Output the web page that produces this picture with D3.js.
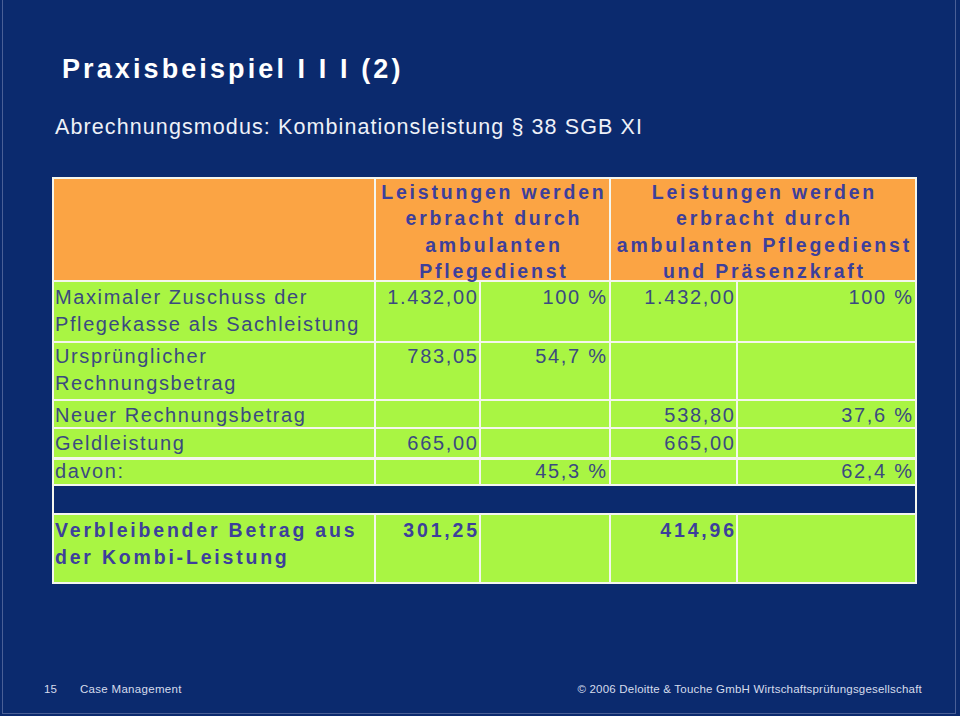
<!DOCTYPE html>
<html><head><meta charset="utf-8">
<script src="https://cdn.jsdelivr.net/npm/d3@7"></script>
<style>
html,body{margin:0;padding:0;background:#0b2a6e;}
svg{display:block;}
</style></head>
<body>
<svg id="chart" width="960" height="716"></svg>
<script>
// ---- data ----
const title = "Praxisbeispiel I I I (2)";
const subtitle = "Abrechnungsmodus: Kombinationsleistung § 38 SGB XI";
const headerLeft = ["Leistungen werden", "erbracht durch", "ambulanten", "Pflegedienst"];
const headerRight = ["Leistungen werden", "erbracht durch", "ambulanten Pflegedienst", "und Präsenzkraft"];
const rowLabels = [
  ["Maximaler Zuschuss der", "Pflegekasse als Sachleistung"],
  ["Ursprünglicher", "Rechnungsbetrag"],
  ["Neuer Rechnungsbetrag"],
  ["Geldleistung"],
  ["davon:"],
  ["Verbleibender Betrag aus", "der Kombi-Leistung"]
];
// columns: Betrag (Pflegedienst), Anteil, Betrag (Kombi), Anteil
const betragA = ["1.432,00", "783,05", "", "665,00", "", "301,25"];
const anteilA = ["100 %", "54,7 %", "", "", "45,3 %", ""];
const betragB = ["1.432,00", "", "538,80", "665,00", "", "414,96"];
const anteilB = ["100 %", "", "37,6 %", "", "62,4 %", ""];
const footerLeftNum = "15";
const footerLeftText = "Case Management";
const footerRight = "© 2006 Deloitte & Touche GmbH Wirtschaftsprüfungsgesellschaft";

// ---- layout ----
const svg = d3.select("#chart");
const NAVY = "#0b2a6e", ORANGE = "#fba444", GREEN = "#a9f543";
const TXT = "#3b4a80", HDR = "#3d3f9b";
const colX = [53, 375, 480, 610, 737, 916];
const rowBottoms = [342, 400, 428, 458, 485, 583];
const rowTopsAll = [281, 342, 400, 428, 458, 514];
const tableTop = 178, gapTop = 485, gapBottom = 514;
const FONT = "Liberation Sans, Arial, sans-serif";

// slide border
svg.append("rect").attr("x",0).attr("y",0).attr("width",960).attr("height",716).attr("fill",NAVY);
svg.append("rect").attr("x",2.5).attr("y",-1).attr("width",953).attr("height",714.5)
  .attr("fill","none").attr("stroke","#4a5f96").attr("stroke-width",1);

// title
svg.append("text").attr("x",62).attr("y",78).text(title)
  .attr("fill","#fff").attr("font-family",FONT)
  .attr("font-weight","bold").attr("font-size",27).attr("letter-spacing",3.1);
svg.append("text").attr("x",55).attr("y",134).text(subtitle)
  .attr("fill","#eef1f8").attr("font-family",FONT)
  .attr("font-size",21.5).attr("letter-spacing",1.1);

// table background (white grid)
const g = svg.append("g");
g.append("rect").attr("x",colX[0]-1).attr("y",tableTop-1)
  .attr("width",colX[5]-colX[0]+2).attr("height",583-tableTop+2).attr("fill","#f4f6ee");

function cell(x0,x1,y0,y1,fill){
  g.append("rect").attr("x",x0+1).attr("y",y0+1).attr("width",x1-x0-2).attr("height",y1-y0-2).attr("fill",fill);
}
// header cells
cell(colX[0],colX[1],tableTop,281,ORANGE);
cell(colX[1],colX[3],tableTop,281,ORANGE);
cell(colX[3],colX[5],tableTop,281,ORANGE);
// data rows
rowTopsAll.forEach((t,i)=>{
  const b = rowBottoms[i];
  const extra = (i===4)?1:0; // thicker line above "davon"
  for(let c=0;c<5;c++) cell(colX[c], colX[c+1], t+extra, b, GREEN);
});
// navy gap row
cell(colX[0],colX[5],gapTop,gapBottom,NAVY);

// header text
function hdr(lines, cx){
  lines.forEach((s,i)=>{
    g.append("text").attr("x",cx+1.4).attr("y",199+i*26.3).text(s)
      .attr("text-anchor","middle").attr("fill",HDR).attr("font-family",FONT)
      .attr("font-weight","bold").attr("font-size",19.5).attr("letter-spacing",2.8);
  });
}
hdr(headerLeft,(colX[1]+colX[3])/2);
hdr(headerRight,(colX[3]+colX[5])/2);

const baseY = [304, 363, 422, 450, 478, 537];
rowLabels.forEach((lines,i)=>{
  const bold = i===5;
  lines.forEach((s,j)=>{
    g.append("text").attr("x",55).attr("y",baseY[i]+j*26.5).text(s)
      .attr("fill",bold?HDR:TXT).attr("font-family",FONT)
      .attr("font-weight",bold?"bold":"normal").attr("font-size",bold?19.5:20)
      .attr("letter-spacing",bold?2.8:1.6);
  });
});
function vals(arr, xr){
  arr.forEach((s,i)=>{
    if(!s) return;
    const bold = i===5;
    const ls = bold?2.8:1.7;
    g.append("text").attr("x",xr+ls).attr("y",baseY[i]).text(s)
      .attr("text-anchor","end").attr("fill",bold?HDR:TXT).attr("font-family",FONT)
      .attr("font-weight",bold?"bold":"normal").attr("font-size",bold?19.5:20)
      .attr("letter-spacing",ls);
  });
}
vals(betragA, colX[2]-3);
vals(anteilA, colX[3]-4);
vals(betragB, colX[4]-3);
vals(anteilB, colX[5]-4);

// footer
svg.append("text").attr("x",44).attr("y",693).text(footerLeftNum)
  .attr("fill","#d5dcec").attr("font-family",FONT).attr("font-size",11.5);
svg.append("text").attr("x",80).attr("y",693).text(footerLeftText)
  .attr("fill","#d5dcec").attr("font-family",FONT).attr("font-size",11.5).attr("letter-spacing",0.3);
svg.append("text").attr("x",922).attr("y",693).text(footerRight)
  .attr("text-anchor","end").attr("fill","#d5dcec").attr("font-family",FONT).attr("font-size",11.5).attr("letter-spacing",0.2);
</script>
</body></html>
